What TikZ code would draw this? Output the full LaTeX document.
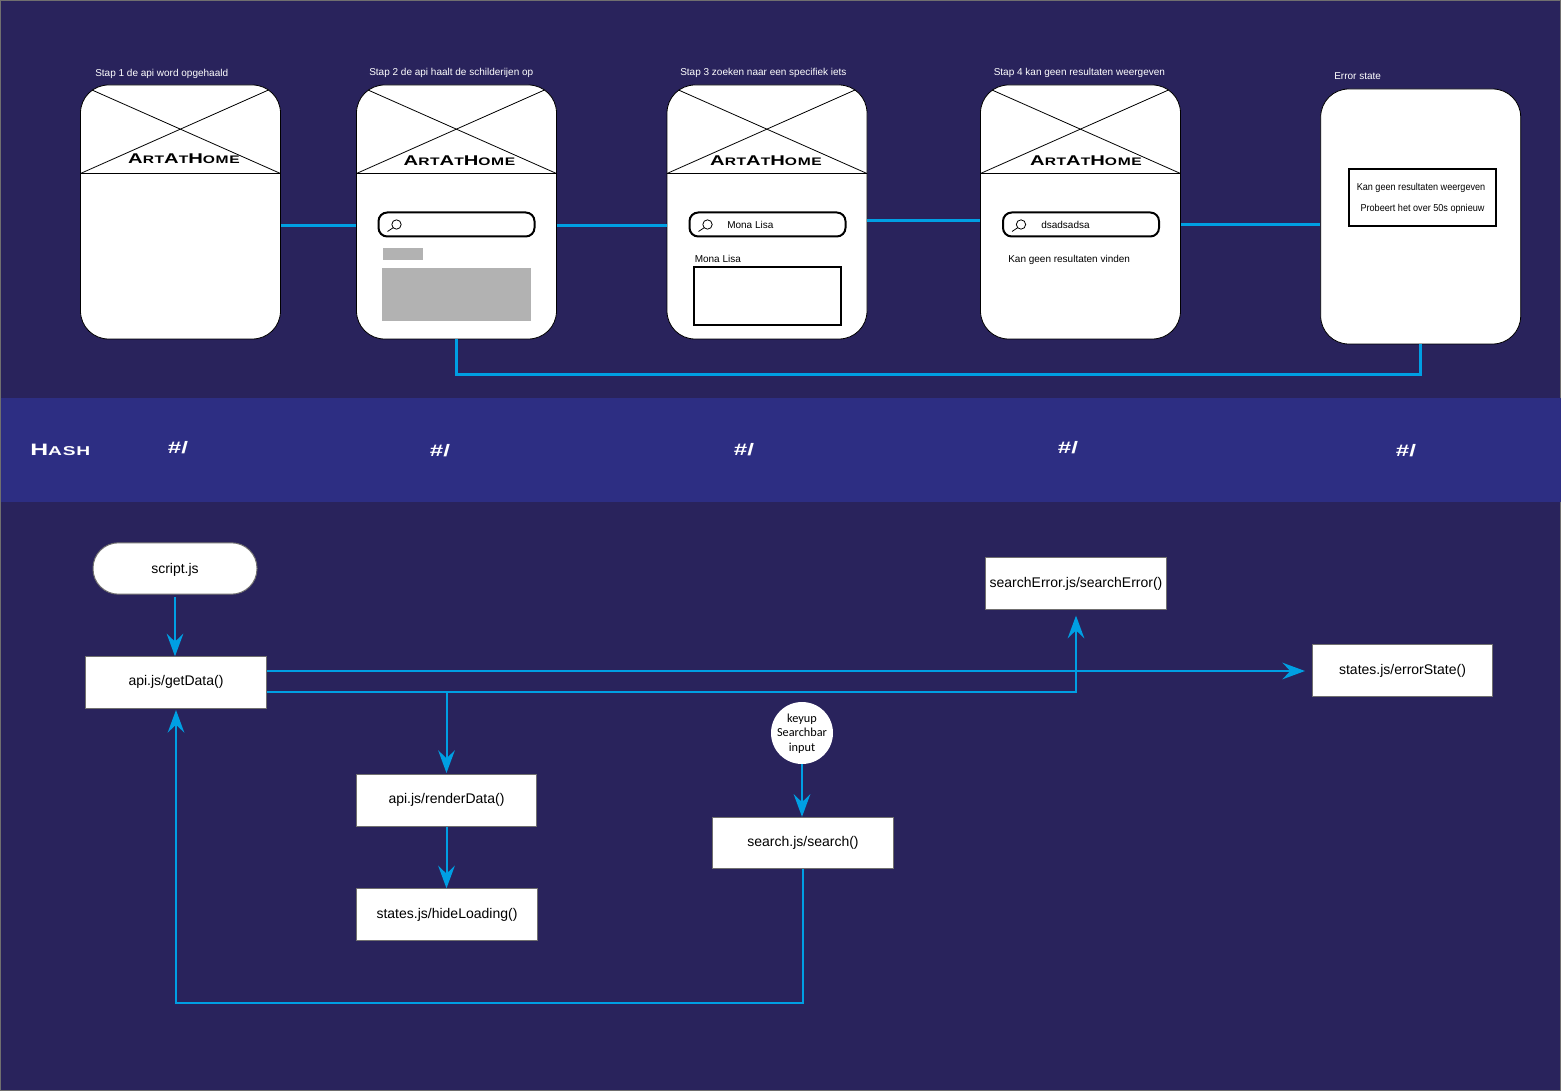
\documentclass[tikz,border=0pt]{standalone}
\usepackage{fontspec}
\usepackage{graphicx}
\setmainfont{Liberation Sans}
\newfontfamily\carlitofont{Carlito}
\usetikzlibrary{arrows.meta,calc}
\definecolor{bgdark}{HTML}{29235C}
\definecolor{bandblue}{HTML}{2D2E83}
\definecolor{linkblue}{HTML}{009FE3}
\definecolor{placeholder}{HTML}{B2B2B2}
\definecolor{edgegrey}{HTML}{706F6F}
\newcommand{\bigsmall}[2]{{\fontsize{#1}{#1}\selectfont #2}}
\newcommand{\logotext}{\scalebox{1.43}[1]{\bfseries\addfontfeatures{LetterSpace=4}\bigsmall{10.6}{A}\bigsmall{8.2}{RT}\bigsmall{10.6}{A}\bigsmall{8.2}{T}\bigsmall{10.6}{H}\bigsmall{8.2}{OME}}}
% name, centre x, centre y of the logo
\newcommand{\wireframe}[5]{%
  \node[card] (#1) at (#2,212) {};
  \draw[hairline] (#2-88.5,90) -- (#2+100,173.5);
  \draw[hairline] (#2+88,90) -- (#2-100,173.5);
  \draw[hairline] (#2-100,173.5) -- (#2+100,173.5);
  \node[logo] (#1logo) at (#4,#5) {\logotext};
}
\newcommand{\searchbar}[3]{%
  \node[sbar] (#1) at (#2,#3) {};
  \draw[line width=0.6pt] ($(#1.west)+(19,0)$) circle[radius=3.5pt];
  \draw[line width=0.6pt] ($(#1.west)+(16,3)$) -- ($(#1.west)+(10,7)$);
}
\tikzset{
  x=0.75pt,y=-0.75pt,
  card/.style={draw=black,line width=0.6pt,fill=white,rounded corners=21pt,minimum width=150pt,minimum height=190.5pt,inner sep=0pt},
  hairline/.style={draw=black,line width=0.6pt},
  logo/.style={text=black,inner sep=0pt,anchor=center},
  caption/.style={text=white,font=\fontsize{7.5}{9}\selectfont,inner sep=0pt,anchor=west},
  wiretext/.style={text=black,font=\fontsize{7.5}{9}\selectfont,inner sep=0pt,anchor=west},
  sbar/.style={draw=black,line width=1.5pt,fill=white,rounded corners=6.5pt,minimum width=117pt,minimum height=18pt,inner sep=0pt},
  greybox/.style={fill=placeholder,draw=none,inner sep=0pt},
  hashlabel/.style={text=white,inner sep=0pt,font=\bfseries\fontsize{12.5}{13}\selectfont},
  flowbox/.style={draw=edgegrey,line width=0.75pt,fill=white,text=black,minimum width=135.5pt,minimum height=38.5pt,inner sep=0pt,font=\fontsize{10.5}{12}\selectfont},
  textup/.style={text height=7.9pt,text depth=3.7pt},
  textdown/.style={text height=9.4pt,text depth=2.2pt},
  wire/.style={draw=linkblue,line width=2.25pt},
  flow/.style={draw=linkblue,line width=1.5pt},
  flowarrow/.style={flow,-{Stealth[length=17pt,width=12.5pt,inset=6pt]}},
}
\begin{document}
\begin{tikzpicture}
\useasboundingbox (0,0) rectangle (1561,1091);
\fill[bgdark] (0,0) rectangle (1561,1091);
\draw[edgegrey,line width=0.75pt] (0.5,0.5) rectangle (1560.5,1090.5);
\fill[bandblue] (1,398) rectangle (1561,501.5);

% wireframe cards
\wireframe{cardA}{180.5}{}{184}{158.5}
\wireframe{cardB}{456.5}{}{459.5}{160.5}
\wireframe{cardC}{767}{}{766}{161}
\wireframe{cardD}{1080.5}{}{1086}{160.5}
\node[card,minimum height=191.25pt] (cardE) at (1420.7,216.5) {};

% connectors between cards
\draw[wire] ([yshift=-10.5pt]cardA.east) -- ([yshift=-10.5pt]cardB.west);
\draw[wire] ([yshift=-10.5pt]cardB.east) -- ([yshift=-10.5pt]cardC.west);
\draw[wire] ([yshift=-6.375pt]cardC.east) -- ([yshift=-6.375pt]cardD.west);
\draw[wire] ([yshift=-9.375pt]cardD.east) -- ([yshift=-6pt]cardE.west);
\coordinate (wirelow) at (0,374.5);
\draw[wire] (cardB.south) -- (cardB.south |- wirelow) -- (cardE.south |- wirelow) -- (cardE.south);

% captions
\node[caption] (capA) at (95,73.5) {Stap 1 de api word opgehaald};
\node[caption] (capB) at (369,72.5) {Stap 2 de api haalt de schilderijen op};
\node[caption] (capC) at (680,72.5) {Stap 3 zoeken naar een specifiek iets};
\node[caption] (capD) at (993.5,72.5) {Stap 4 kan geen resultaten weergeven};
\node[caption] (capE) at (1334,76.5) {Error state};

% card contents
\searchbar{barB}{456.5}{224.5}
\node[greybox,minimum width=30pt,minimum height=9pt] (greyS) at (403,254) {};
\node[greybox,minimum width=111.5pt,minimum height=39.5pt] (greyL) at (456.5,294.5) {};
\searchbar{barC}{767.5}{224.5}
\node[wiretext] (txtC) at (727,225) {Mona Lisa};
\node[wiretext] (titleC) at (694.5,259) {Mona Lisa};
\node[draw=black,line width=1.5pt,fill=white,minimum width=110pt,minimum height=43.5pt,inner sep=0pt] (boxC) at (767.5,296) {};
\searchbar{barD}{1081}{224.5}
\node[wiretext] (txtD) at (1041,225) {dsadsadsa};
\node[wiretext] (msgD) at (1008,259.5) {Kan geen resultaten vinden};
\node[draw=black,line width=1.5pt,fill=white,minimum width=110pt,minimum height=43pt,inner sep=0pt] (boxE) at (1422.5,197.5) {};
\node[text=black,inner sep=0pt] (errA) at (1421,187.5) {\scalebox{0.91}[1]{\fontsize{7.5}{9}\selectfont Kan geen resultaten weergeven}};
\node[text=black,inner sep=0pt] (errB) at (1422.5,208.5) {\scalebox{0.91}[1]{\fontsize{7.5}{9}\selectfont Probeert het over 50s opnieuw}};

% hash band
\node[text=white,inner sep=0pt,anchor=west] (hashT) at (30,450) {\scalebox{1.5}[1]{\bfseries\addfontfeatures{LetterSpace=4}\bigsmall{12.4}{H}\bigsmall{9.6}{ASH}}};
\node[hashlabel] (h1) at (178,447.5) {\scalebox{1.45}[1]{\#/}};
\node[hashlabel] (h2) at (440,450.5) {\scalebox{1.45}[1]{\#/}};
\node[hashlabel] (h3) at (744,449.5) {\scalebox{1.45}[1]{\#/}};
\node[hashlabel] (h4) at (1068,447.5) {\scalebox{1.45}[1]{\#/}};
\node[hashlabel] (h5) at (1406,450.5) {\scalebox{1.45}[1]{\#/}};

% connectors of the flow (under the boxes)
\coordinate (apiHigh) at (0,671);
\coordinate (apiLow) at (0,691.5);
\coordinate (loopLow) at (0,1002.5);

% flow nodes
\node[flowbox,textdown,draw=edgegrey,rounded corners=19pt,minimum width=123pt] (script) at (175,568.5) {script.js};
\node[flowbox,textup] (api) at (176,682.5) {api.js/getData()};
\node[flowbox,textup] (render) at (446.5,800.5) {api.js/renderData()};
\node[flowbox] (hide) at (447,914.5) {states.js/hideLoading()};
\node[flowbox] (search) at (803,843) {search.js/search()};
\node[flowbox] (serror) at (1076,583.5) {searchError.js/searchError()};
\node[flowbox] (estate) at (1402.5,670.5) {states.js/errorState()};
\node[circle,fill=white,minimum size=46.5pt,inner sep=0pt] (keyup) at (802,733) {};
\node[text=black,align=center,inner sep=0pt,font=\carlitofont\fontsize{9.2}{10.8}\selectfont] (keyuptext) at (802,733.5) {keyup\\Searchbar\\input};

\draw[flowarrow] ([yshift=-2pt]script.south) -- (script.south |- api.north);
\draw[flowarrow] (api.east |- apiHigh) -- ([xshift=-5pt]estate.west |- apiHigh);
\draw[flowarrow] (api.east |- apiLow) -- (serror.south |- apiLow) -- ([yshift=-4.5pt]serror.south);
\draw[flowarrow] (render.north |- apiLow) -- ([yshift=1pt]render.north);
\draw[flowarrow] (render.south) -- (render.south |- hide.north);
\draw[flowarrow] (keyup.south) -- (keyup.south |- search.north);
\draw[flowarrow] (search.south) -- (search.south |- loopLow) -- (api.south |- loopLow) -- ([yshift=-1pt]api.south);
\end{tikzpicture}
\end{document}
